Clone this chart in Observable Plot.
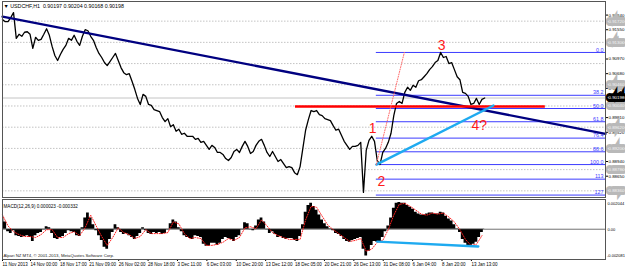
<!DOCTYPE html>
<html><head><meta charset="utf-8">
<script src="https://cdn.jsdelivr.net/npm/d3@7"></script>
<script src="https://cdn.jsdelivr.net/npm/@observablehq/plot@0.6"></script>
<style>
body{margin:0;background:#fff;}
#chart{width:625px;height:269px;position:relative;overflow:hidden;background:#fff;}
#chart svg{display:block;}
</style></head><body><div id="chart"></div>
<script>
// ---- data ----
const STEP = 6;                 // H1 bars between samples
const closes = [
 0.9175,0.9171,0.9171,0.9179,0.9189,0.9138,0.9146,0.9142,0.9150,0.9151,
 0.9146,0.9118,0.9140,0.9134,0.9136,0.9146,0.9157,0.9144,0.9122,0.9104,
 0.9094,0.9106,0.9116,0.9124,0.9138,0.9134,0.9144,0.9132,0.9124,0.9142,
 0.9155,0.9153,0.9142,0.9134,0.9120,0.9108,0.9100,0.9090,0.9084,0.9092,
 0.9100,0.9108,0.9094,0.9080,0.9070,0.9066,0.9068,0.9053,0.9037,0.9019,
 0.9007,0.9027,0.9023,0.9007,0.9005,0.8997,0.8995,0.8993,0.8981,0.8973,
 0.8979,0.8963,0.8967,0.8954,0.8958,0.8948,0.8950,0.8944,0.8944,0.8944,
 0.8938,0.8940,0.8932,0.8934,0.8926,0.8918,0.8926,0.8922,0.8912,0.8912,
 0.8908,0.8900,0.8896,0.8902,0.8914,0.8918,0.8912,0.8924,0.8934,0.8924,
 0.8910,0.8914,0.8926,0.8934,0.8938,0.8926,0.8912,0.8904,0.8914,0.8904,
 0.8894,0.8898,0.8890,0.8882,0.8884,0.8882,0.8872,0.8868,0.8884,0.8920,
 0.8956,0.8977,0.8995,0.8993,0.8995,0.8987,0.8985,0.8979,0.8977,0.8975,
 0.8965,0.8956,0.8958,0.8946,0.8934,0.8926,0.8918,0.8924,0.8924,0.8926,
 0.8932,0.8833,0.8916,0.8936,0.8944,0.8934,0.8896,0.8888,0.8912,0.8920,
 0.8932,0.8950,0.8985,0.9009,0.9013,0.9009,0.9031,0.9041,0.9035,0.9045,
 0.9041,0.9054,0.9056,0.9062,0.9068,0.9076,0.9082,0.9090,0.9094,0.9110,
 0.9100,0.9102,0.9088,0.9090,0.9076,0.9062,0.9056,0.9031,0.9029,0.9023,
 0.9007,0.9009,0.9019,0.9007,0.9017,0.90198];
// MACD main (histogram), in units of 0.0001
const macdHist = [
 8.4,5.0,-1.7,-3.0,-1.0,-4.4,-5.0,-5.7,-5.0,-4.4,
 -5.7,-8.4,-4.4,-3.0,-2.3,-0.3,1.7,1.0,-3.0,-6.4,
 -7.0,-5.7,-5.0,-3.0,-1.0,-1.7,-2.3,-4.4,-5.0,1.0,
 7.7,11.1,7.7,3.0,-1.0,-4.4,-7.7,-12.4,-13.7,-7.0,
 -2.3,3.0,1.0,-2.3,-3.7,-3.0,-4.4,-5.7,-7.0,-5.0,
 -3.0,1.0,-1.0,-3.0,-3.7,-2.3,-3.0,-2.3,-3.7,-3.0,
 -0.3,3.7,6.4,5.0,1.0,-1.7,-4.4,-5.7,-6.4,-7.0,
 -4.4,-5.0,-5.7,-10.4,-11.7,-11.7,-9.7,-9.7,-11.1,-9.7,
 -7.0,-5.7,-6.4,-7.0,-8.4,-5.7,-4.4,-0.3,4.4,3.7,
 -0.3,-1.0,2.3,6.4,7.7,5.0,-0.3,-3.0,-1.7,-3.7,
 -5.7,-5.0,-6.4,-7.0,-6.4,-6.4,-7.7,-8.4,-5.0,3.0,
 11.7,16.4,17.8,15.7,13.1,9.7,6.4,3.7,1.7,0.3,
 -1.0,-3.0,-3.7,-5.0,-7.0,-8.4,-9.0,-7.7,-7.0,-6.4,
 -5.7,-13.7,-18.4,-15.1,-11.1,-8.4,-9.0,-8.4,-5.7,-1.7,
 2.3,7.7,14.4,17.8,18.4,17.8,17.8,16.4,15.1,13.7,
 11.7,10.4,9.7,9.7,10.4,11.1,11.1,10.4,10.4,11.7,
 11.1,9.0,7.0,5.7,3.0,0.3,-2.3,-7.0,-9.7,-11.1,
 -11.7,-10.4,-9.0,-5.7,-2.3,0.2];
// MACD signal, every 12 bars, units of 0.0001
const SIG_STEP = 12;
const macdSignal = [
 9.7,2.3,-1.7,-3.7,-5.0,-5.0,-5.7,-3.7,-0.3,-0.3,
 -5.7,-5.7,-3.0,-1.7,-4.4,1.0,9.7,2.3,-5.0,-11.1,
 -5.7,1.0,-2.3,-3.7,-6.4,-5.0,-0.3,-3.0,-3.0,-3.0,
 -2.3,5.0,3.7,-3.0,-6.4,-5.7,-6.4,-11.1,-11.1,-10.4,
 -9.0,-6.4,-7.7,-5.7,1.0,1.7,0.3,6.4,2.3,-2.3,
 -4.4,-5.7,-7.0,-7.0,-7.0,6.4,15.7,15.1,9.0,3.0,
 -0.3,-3.0,-5.7,-8.4,-7.7,-6.4,-15.1,-13.7,-9.0,-7.7,
 -0.3,9.7,17.1,17.8,15.7,13.1,10.4,9.7,11.1,10.4,
 11.1,8.4,5.0,-0.3,-7.0,-11.1,-10.4,-4.4];
const tickBars = [0,61,125,189,253,317,381,445,509,573,637,701,765,829,893,957,1021];
const tickLabels = ["11 Nov 2013","14 Nov 00:00","18 Nov 17:00","21 Nov 09:00","26 Nov 02:00",
 "28 Nov 18:00","3 Dec 11:00","6 Dec 03:00","10 Dec 20:00","13 Dec 12:00","18 Dec 05:00",
 "20 Dec 21:00","26 Dec 13:00","31 Dec 08:00","6 Jan 04:00","8 Jan 20:00","13 Jan 13:00"];
const xDomain = [0, 1313];
const priceDomain = [0.88228, 0.92109];
const priceTicks = [0.91840,0.91550,0.90970,0.90680,0.90390,0.89810,0.89520,0.88940,0.88650];
const gridPrices = [0.9172,0.9130,0.9088,0.9046,0.9004,0.8962,0.8920,0.8878,0.8836];
const boxedPrices = [0.91720,0.91300,0.90460,0.90040,0.89620,0.89200,0.88780,0.88360];
const lastPrice = 0.90198;
const titleText = "▼ USDCHF,H1  0.90197 0.90204 0.90168 0.90198";
const trendBars = [0, 1313], trendPrices = [0.9181, 0.8949];
const supportBars = [638, 1182], supportPrice = 0.9003;
const cyanBars = [814, 1069], cyanPrices = [0.8888, 0.9005];
const fanBars = [814, 875], fanPrices = [0.8888, 0.9110];
const fibStart = 814, fibHigh = 0.9110, fibLow = 0.8888;
const fibLevels = [0, 38.2, 50, 61.8, 76.4, 88.6, 100, 113, 127.2];
const fibTexts = ["0.0","38.2","50.0","61.8","76.4","88.6","100.0","113","127"];
const waveTexts = ["1","2","3","4?"];
const waveBars = [806, 825, 956, 1038];
const wavePrices = [0.8960, 0.8855, 0.9124, 0.8965];
const macdDomain = [-20.81, 20.44];
const macdTitle = "MACD(12,26,9) 0.000023 -0.000332";
const macdAxis = ["0.002044", "0.00", "-0.002081"];
const divBars = [816, 1036], divValues = [-8.5, -11.9];
const copyright = "Alpari NZ MT4, © 2001-2013, MetaQuotes Software Corp.";

// ---- derived tables ----
const priceData = closes.map((p, i) => ({bar: i * STEP, p}));
const histData = macdHist.map((v, i) => ({bar: i * STEP, v}));
const sigData = macdSignal.map((v, i) => ({bar: i * SIG_STEP, v}));
const trend = trendBars.map((b, i) => ({bar: b, p: trendPrices[i]}));
const cyan = cyanBars.map((b, i) => ({bar: b, p: cyanPrices[i]}));
const fan = fanBars.map((b, i) => ({bar: b, p: fanPrices[i]}));
const fib = fibLevels.map((l, i) => ({l, p: fibHigh - l / 100 * (fibHigh - fibLow), t: fibTexts[i]}));
const waves = waveTexts.map((t, i) => ({t, bar: waveBars[i], p: wavePrices[i]}));
const div = divBars.map((b, i) => ({bar: b, v: divValues[i]}));

const FONT = "'Liberation Sans', Arial, sans-serif";
const AX = 4.4; // right-axis font size
const baseStyle = {fontFamily: FONT, fontSize: "5px", background: "#fff", color: "#000", overflow: "visible"};

const pricePane = Plot.plot({
  width: 625, height: 199,
  marginLeft: 2, marginRight: 20, marginTop: 1, marginBottom: 2,
  style: baseStyle,
  x: {domain: xDomain, axis: null},
  y: {domain: priceDomain, axis: null},
  marks: [
    Plot.ruleY(gridPrices, {stroke: "#b4b4b4", strokeDasharray: "1.5,1.5", strokeWidth: 0.8}),
    Plot.ruleY([lastPrice], {stroke: "#c4c4c4", strokeWidth: 1}),
    Plot.ruleY(fib, {y: "p", x1: fibStart, x2: xDomain[1], stroke: "#3c3cff", strokeWidth: 1}),
    Plot.text(fib, {y: "p", x: xDomain[1], text: "t", textAnchor: "end", dx: -2, dy: -2.6, fill: "#3c3cff", fontSize: 5.4}),
    Plot.line(priceData, {x: "bar", y: "p", stroke: "#000", strokeWidth: 1.3}),
    Plot.line(trend, {x: "bar", y: "p", stroke: "#000080", strokeWidth: 2.3}),
    Plot.ruleY([supportPrice], {x1: supportBars[0], x2: supportBars[1], stroke: "#ff0000", strokeWidth: 2.3}),
    Plot.line(cyan, {x: "bar", y: "p", stroke: "#1eaaf0", strokeWidth: 2.4}),
    Plot.line(fan, {x: "bar", y: "p", stroke: "#ff6a6a", strokeWidth: 1, strokeDasharray: "1,1.5"}),
    Plot.text(waves, {x: "bar", y: "p", text: "t", fill: "#ff1a1a", fontSize: 14}),
    Plot.text([titleText], {frameAnchor: "top-left", dx: 1, dy: 3, textAnchor: "start", fontSize: 5.3, fill: "#000"}),
    Plot.axisY({anchor: "right", ticks: priceTicks, tickFormat: d => d.toFixed(5), tickSize: 2, tickPadding: 1, fontSize: AX, label: null}),
    Plot.text(boxedPrices, {frameAnchor: "right", y: d => d, text: d => d.toFixed(5), textAnchor: "start", dx: 3,
      fill: "#f4f4f4", stroke: "#b9b9b9", strokeWidth: 6, strokeLinejoin: "miter", paintOrder: "stroke", fontSize: AX}),
    Plot.text([lastPrice], {frameAnchor: "right", y: d => d, text: d => d.toFixed(5), textAnchor: "start", dx: 3,
      fill: "#fff", stroke: "#000", strokeWidth: 6, strokeLinejoin: "miter", paintOrder: "stroke", fontSize: AX}),
    Plot.frame({stroke: "#555", strokeWidth: 1})
  ]
});

const macdPane = Plot.plot({
  width: 625, height: 70,
  marginLeft: 2, marginRight: 20, marginTop: 0, marginBottom: 10,
  style: baseStyle,
  x: {domain: xDomain, label: null},
  y: {domain: macdDomain, axis: null},
  marks: [
    Plot.areaY(histData, {x: "bar", y: "v", fill: "#000", curve: "step"}),
    Plot.ruleY([0], {stroke: "#333", strokeWidth: 0.7}),
    Plot.line(sigData, {x: "bar", y: "v", stroke: "#ff2020", strokeWidth: 1, strokeDasharray: "1,1.5"}),
    Plot.line(div, {x: "bar", y: "v", stroke: "#1eaaf0", strokeWidth: 2.4}),
    Plot.text([macdTitle], {frameAnchor: "top-left", dx: 1, dy: 5, textAnchor: "start", fontSize: 4.6}),
    Plot.text([copyright], {frameAnchor: "bottom-left", dx: 1, dy: -3, textAnchor: "start", fontSize: 4.3, fill: "#222"}),
    Plot.text([macdAxis[0]], {frameAnchor: "top-right", dx: 2, dy: 2.5, textAnchor: "start", fontSize: 4}),
    Plot.text([0], {frameAnchor: "right", y: d => d, text: () => macdAxis[1], dx: 2, textAnchor: "start", fontSize: 4}),
    Plot.text([macdAxis[2]], {frameAnchor: "bottom-right", dx: 1.5, dy: -2.5, textAnchor: "start", fontSize: 4}),
    Plot.axisX({ticks: tickBars, tickFormat: d => tickLabels[tickBars.indexOf(d)], tickSize: 2, tickPadding: 1,
      textAnchor: "start", dx: 0, fontSize: 4.5, label: null}),
    Plot.frame({stroke: "#555", strokeWidth: 1})
  ]
});

const root = document.getElementById("chart");
root.appendChild(pricePane);
root.appendChild(macdPane);
</script></body></html>
